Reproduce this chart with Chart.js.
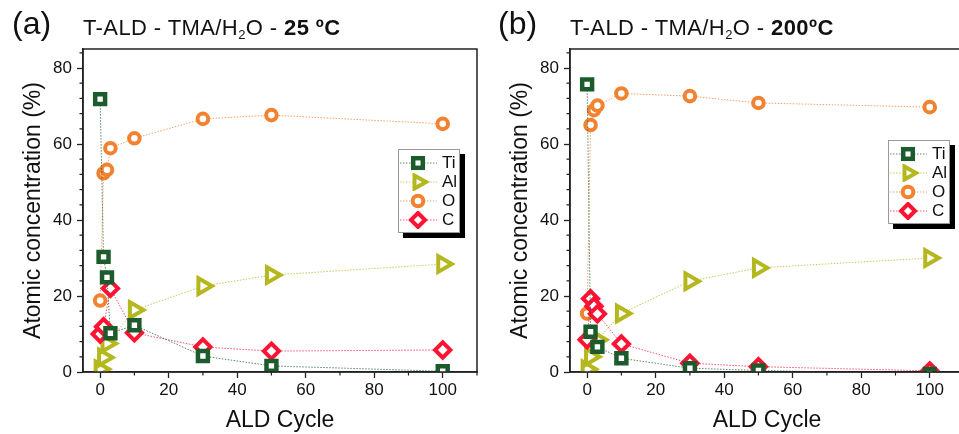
<!DOCTYPE html>
<html lang="en">
<head>
  <meta charset="UTF-8">
  <title>T-ALD TMA/H2O atomic concentration</title>
  <script src="https://cdn.jsdelivr.net/npm/chart.js"></script>
  <style>
    body { margin: 0; width: 959px; height: 434px; overflow: hidden; background: white; position: relative; font-family: "Liberation Sans", Arial, sans-serif; color: #111; }
    .panel { position: absolute; top: 0; width: 490px; height: 434px; }
    .tag { position: absolute; top: 5px; font-size: 32px; }
    .title { position: absolute; top: 17px; font-size: 22px; line-height: 21px; white-space: nowrap; letter-spacing: 0.4px; }
    .title sub { font-size: 13px; vertical-align: -4px; line-height: 0; }
    .legend { position: absolute; width: 60px; height: 76px; padding: 3px 0 3px 0; border: 1px solid #999; background: white; box-shadow: 5px 5px 0 #000; }
    .legend .row { height: 19px; display: flex; align-items: center; font-size: 17px; }
    .legend svg { margin-left: 1px; margin-right: 5px; }
  </style>
</head>
<body>
  <div class="panel" style="left:0"><canvas id="chartA" width="490" height="434"></canvas></div>
  <div class="panel" style="left:487px"><canvas id="chartB" width="490" height="434"></canvas></div>

  <div class="tag" style="left:12px">(a)</div>
  <div class="title" style="left:83px">T-ALD - TMA/H<sub>2</sub>O - <b>25 ºC</b></div>
  <div class="tag" style="left:498px">(b)</div>
  <div class="title" style="left:570px">T-ALD - TMA/H<sub>2</sub>O - <b>200ºC</b></div>

  <div class="legend" id="legA" style="left:398px; top:149px"></div>
  <div class="legend" id="legB" style="left:888px; top:140px"></div>

  <script>
    const seriesNames = ['Ti', 'Al', 'O', 'C'];
    const colors = ['#1c5c2c', '#b4b81e', '#f28230', '#ff1232'];

    // (a) 25 ºC
    const tiX_a = [0, 1, 2, 3, 10, 30, 50, 100];
    const tiY_a = [71.8, 30.3, 24.9, 10.2, 12.3, 4.2, 1.6, 0.2];
    const alX_a = [0, 1, 2, 10, 30, 50, 100];
    const alY_a = [0.7, 3.8, 7.5, 16.3, 22.6, 25.5, 28.4];
    const oX_a = [0, 1, 2, 3, 10, 30, 50, 100];
    const oY_a = [18.8, 52.3, 53.2, 58.9, 61.5, 66.6, 67.6, 65.3];
    const cX_a = [0, 1, 3, 10, 30, 50, 100];
    const cY_a = [10.0, 11.9, 22.0, 10.3, 6.6, 5.5, 5.8];

    // (b) 200 ºC
    const tiX_b = [0, 1, 3, 10, 30, 50, 100];
    const tiY_b = [75.7, 10.6, 6.6, 3.6, 1.0, 0.4, -0.5];
    const alX_b = [0, 1, 3, 10, 30, 50, 100];
    const alY_b = [0.7, 4.0, 8.5, 15.4, 23.9, 27.4, 30.0];
    const oX_b = [0, 1, 2, 3, 10, 30, 50, 100];
    const oY_b = [15.4, 65.0, 68.9, 70.1, 73.3, 72.6, 70.8, 69.7];
    const cX_b = [0, 1, 2, 3, 10, 30, 50, 100];
    const cY_b = [8.5, 19.3, 17.3, 15.3, 7.4, 2.3, 1.4, 0.3];

    const xMinor = [10, 30, 50, 70, 90, 110];
    const yMinor = [4, 8, 12, 16, 24, 28, 32, 36, 44, 48, 52, 56, 64, 68, 72, 76, 84];

    const pointStyles = ['rect', 'triangle', 'circle', 'rectRot'];
    const pointRot = [0, 90, 0, 0];
    const radii = [7, 9, 5.3, 7.6];
    const borders = [4.5, 4, 4, 4];
    const drawOrder = [0, 2, 3, 1];

    const zip = (xs, ys) => xs.map((x, i) => ({ x, y: ys[i] }));

    const frameAndMinor = {
      id: 'frameAndMinor',
      afterDraw(chart) {
        const { ctx, chartArea: a, scales: { x, y } } = chart;
        ctx.save();
        ctx.strokeStyle = '#222';
        ctx.lineWidth = 1.2;
        ctx.beginPath();
        xMinor.forEach(v => {
          const px = x.getPixelForValue(v);
          if (px > a.right) return;
          ctx.moveTo(px, a.bottom); ctx.lineTo(px, a.bottom + 3.5);
        });
        yMinor.forEach(v => {
          const py = y.getPixelForValue(v);
          ctx.moveTo(a.left, py); ctx.lineTo(a.left - 3.5, py);
        });
        ctx.stroke();
        ctx.lineWidth = 1.5;
        ctx.strokeRect(a.left, a.top, a.right - a.left, a.bottom - a.top);
        ctx.restore();
      }
    };

    function makeChart(id, sets) {
      return new Chart(document.getElementById(id), {
        type: 'line',
        data: {
          datasets: sets.map((d, i) => ({
            label: seriesNames[i],
            data: d,
            order: drawOrder[i],
            borderColor: colors[i] + 'bb',
            borderWidth: 1,
            borderDash: [1.5, 1.5],
            pointStyle: pointStyles[i],
            rotation: pointRot[i],
            pointRadius: radii[i],
            pointBorderWidth: borders[i],
            pointBorderColor: colors[i],
            pointBackgroundColor: '#fff',
            tension: 0,
            fill: false,
            clip: { left: 10, top: 10, right: 10, bottom: 0 }
          }))
        },
        options: {
          responsive: false,
          animation: false,
          layout: { padding: { left: 20, top: 49, right: 7, bottom: 0 } },
          plugins: { legend: { display: false }, tooltip: { enabled: false } },
          scales: {
            x: {
              type: 'linear', min: -5, max: 110,
              afterFit: s => { s.height = 62; },
              ticks: { stepSize: 20, includeBounds: false, padding: 2, color: '#111', font: { family: '"Liberation Sans", Arial', size: 17 } },
              grid: { drawOnChartArea: false, tickLength: 6, tickColor: '#222', tickWidth: 1.3 },
              border: { color: '#222', width: 1.5 },
              title: { display: true, text: 'ALD Cycle', color: '#111', padding: 0, font: { family: '"Liberation Sans", Arial', size: 23 } }
            },
            y: {
              min: 0, max: 85,
              afterFit: s => { s.width = 63; },
              ticks: { stepSize: 20, includeBounds: false, padding: 5, color: '#111', font: { family: '"Liberation Sans", Arial', size: 17 } },
              grid: { drawOnChartArea: false, tickLength: 6, tickColor: '#222', tickWidth: 1.3 },
              border: { color: '#222', width: 1.5 },
              title: { display: true, text: 'Atomic concentration (%)', color: '#111', padding: 0, font: { family: '"Liberation Sans", Arial', size: 23 } }
            }
          }
        },
        plugins: [frameAndMinor]
      });
    }

    makeChart('chartA', [zip(tiX_a, tiY_a), zip(alX_a, alY_a), zip(oX_a, oY_a), zip(cX_a, cY_a)]);
    makeChart('chartB', [zip(tiX_b, tiY_b), zip(alX_b, alY_b), zip(oX_b, oY_b), zip(cX_b, cY_b)]);

    const markerSvg = [
      c => `<rect x="13.2" y="4.2" width="9.6" height="9.6" fill="#fff" stroke="${c}" stroke-width="4.5"/>`,
      c => `<polygon points="26,9 14.5,2.5 14.5,15.5" fill="#fff" stroke="${c}" stroke-width="4"/>`,
      c => `<circle cx="18" cy="9" r="5.3" fill="#fff" stroke="${c}" stroke-width="4"/>`,
      c => `<polygon points="18,2 25,9 18,16 11,9" fill="#fff" stroke="${c}" stroke-width="4"/>`
    ];
    function buildLegend(id) {
      document.getElementById(id).innerHTML = seriesNames.map((n, i) =>
        `<div class="row"><svg width="37" height="18"><line x1="0" y1="9" x2="37" y2="9" stroke="${colors[i]}" stroke-width="1" stroke-dasharray="1.5,1.5" opacity="0.7"/>${markerSvg[i](colors[i])}</svg>${n}</div>`
      ).join('');
    }
    buildLegend('legA');
    buildLegend('legB');
  </script>
</body>
</html>
